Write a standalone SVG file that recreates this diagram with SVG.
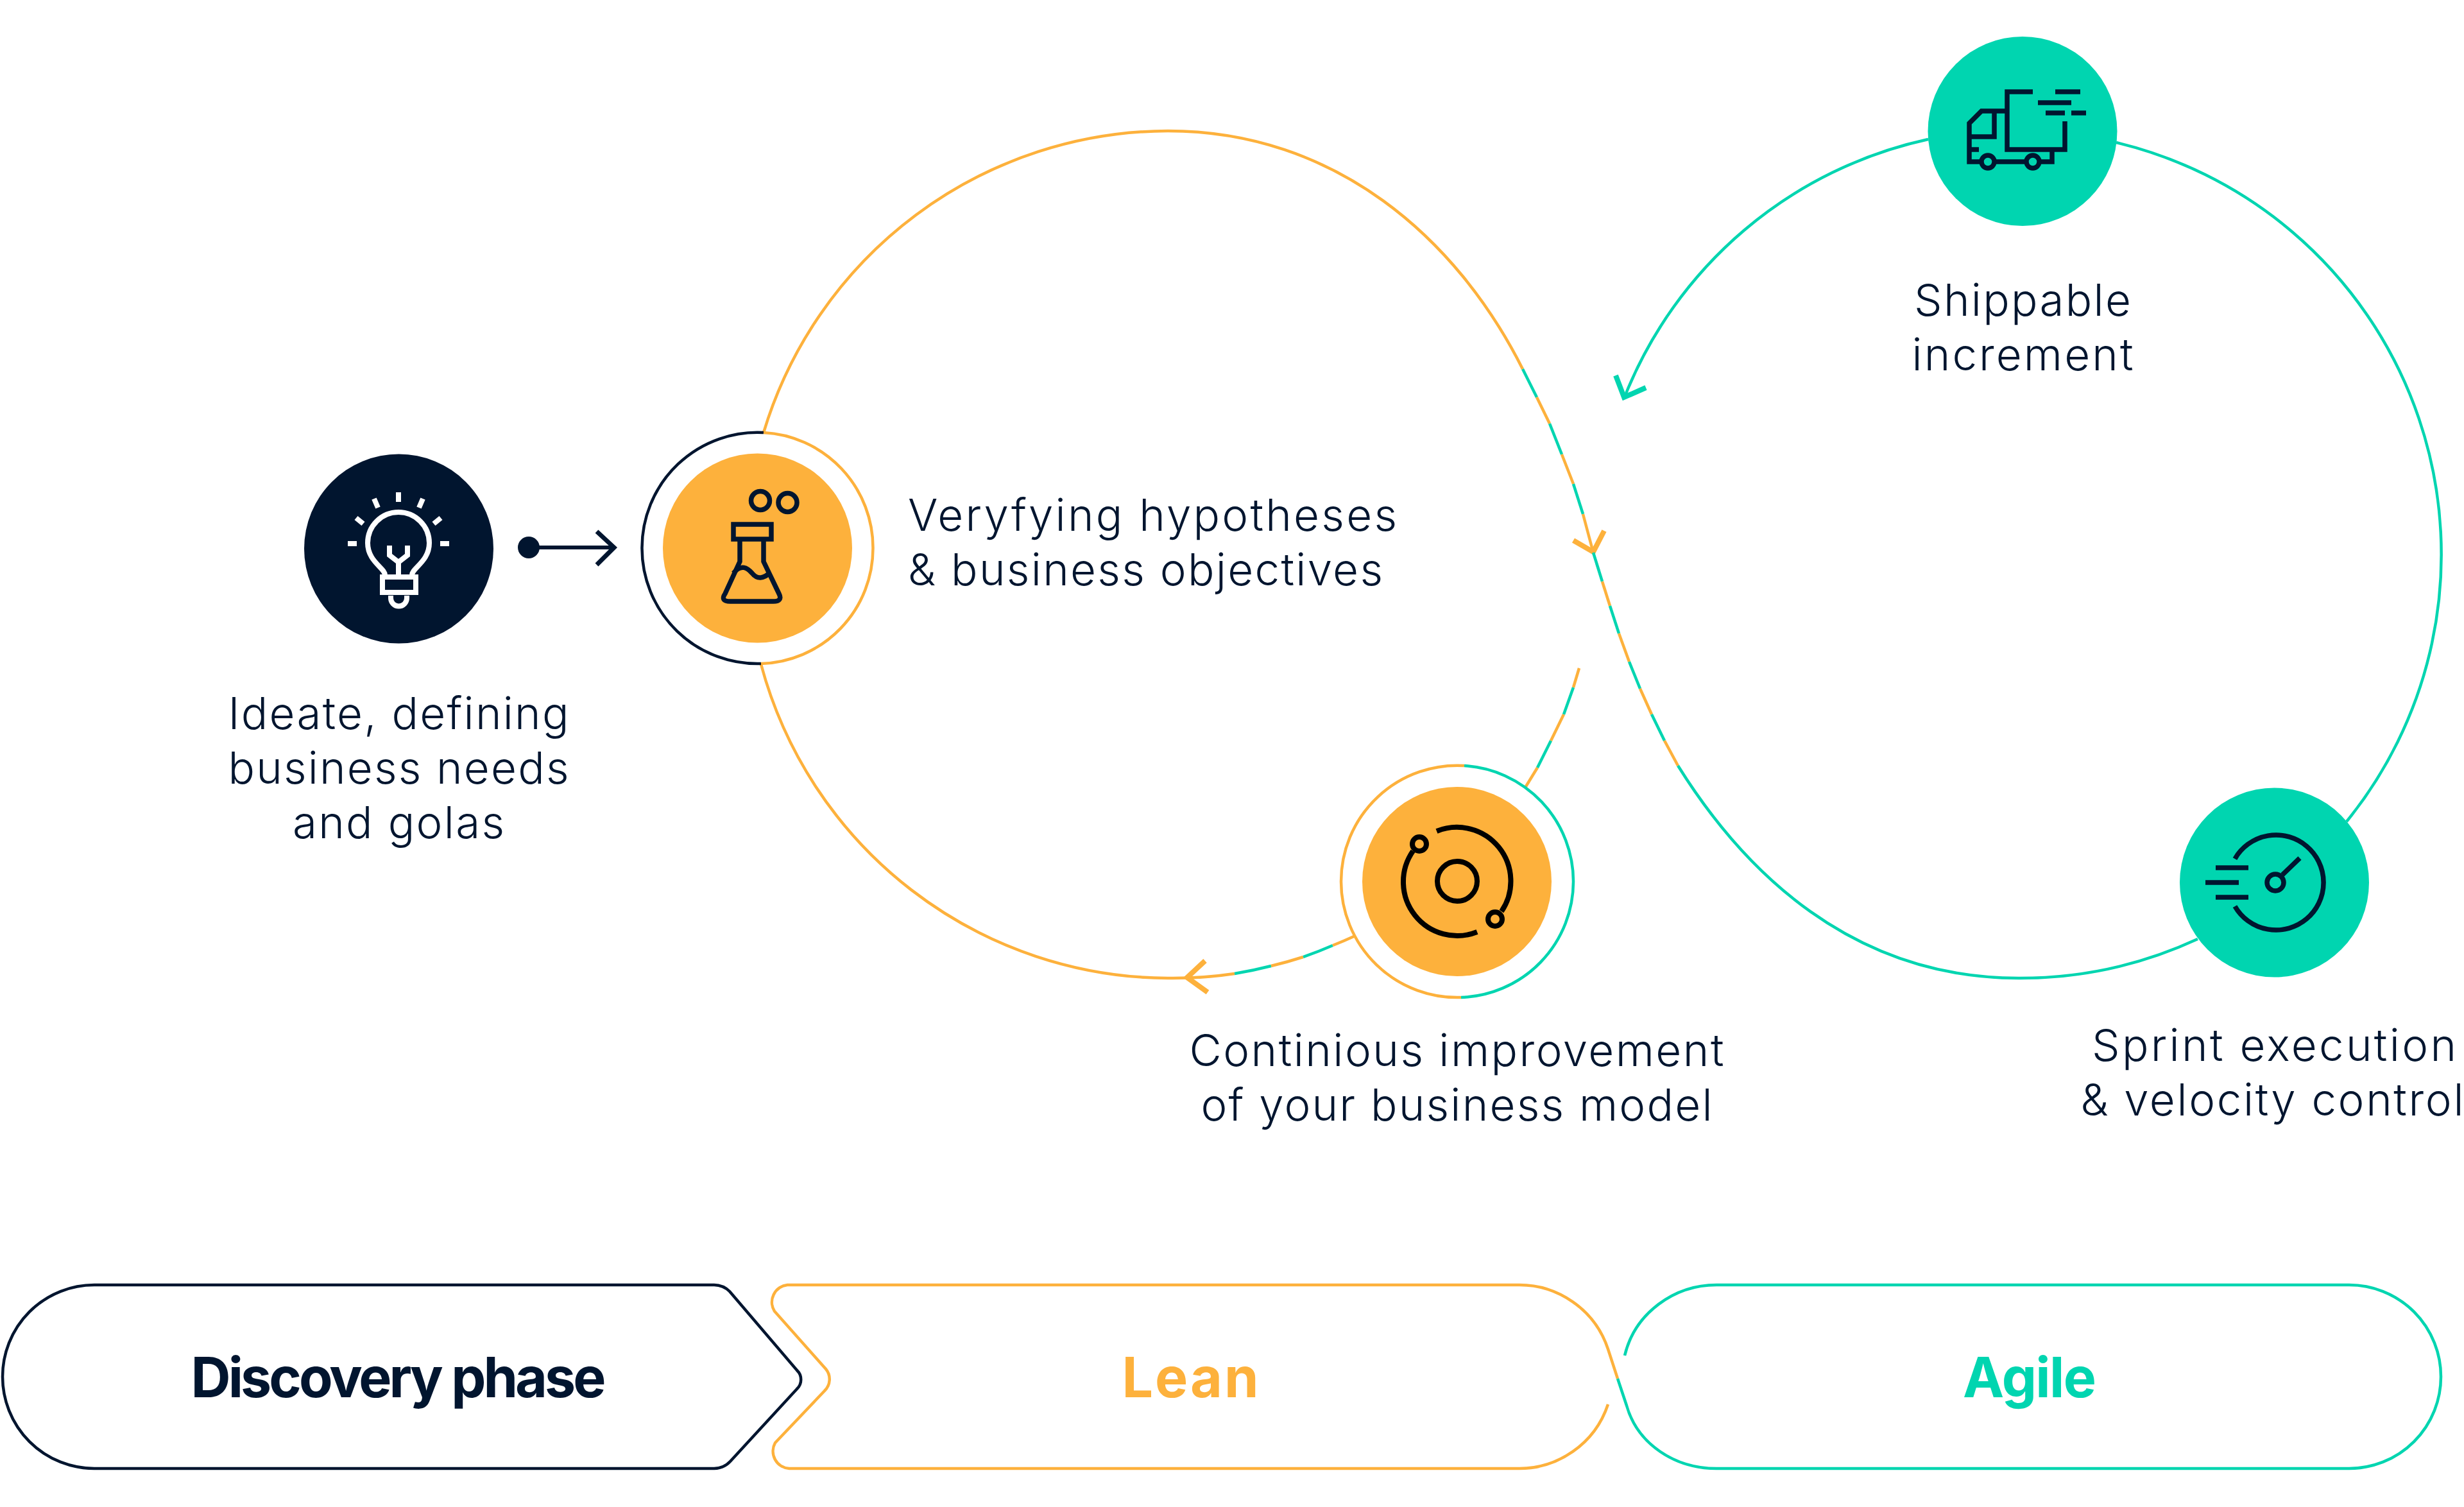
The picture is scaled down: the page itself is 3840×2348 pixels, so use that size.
<svg xmlns="http://www.w3.org/2000/svg" width="3840" height="2348" viewBox="0 0 3840 2348">
<style>
.o,.t,.n{fill:none;stroke-width:4.5}
.o{stroke:#FDB13C}.t{stroke:#00D5B0}.n{stroke:#01152F}
.ah{stroke-width:8}
.lb{font-family:"Inter","Liberation Sans",sans-serif;font-weight:300;font-size:69px;fill:#01152F;text-anchor:middle}
.ll{text-anchor:start}
.ph{font-family:"Inter","Liberation Sans",sans-serif;font-weight:700;font-size:86px;text-anchor:middle}
.iw,.in,.ik{fill:none;stroke-width:7.5}
.iw{stroke:#fff;stroke-width:8}.in{stroke:#01152F}.ik{stroke:#000;stroke-width:8}
</style>
<rect width="3840" height="2348" fill="#fff"/>
<g id="connectors">
<path class="o" d="M1190 674A660 660 0 0 1 1820 204C2080 204 2270 370 2373 575"/>
<path class="t" d="M2373 575L2395 619"/><path class="o" d="M2395 619L2415 660"/><path class="t" d="M2415 660L2434 708"/><path class="o" d="M2434 708L2452 754"/><path class="t" d="M2452 754L2467 801"/><path class="o" d="M2467 801L2483 861"/>
<polyline class="o ah" points="2452,842 2483,860 2500,827"/>
<path class="t" d="M2483 861L2497 906"/><path class="o" d="M2497 906L2509 944"/><path class="t" d="M2509 944L2523 987"/><path class="o" d="M2523 987L2539 1031"/><path class="t" d="M2539 1031L2556 1073"/><path class="o" d="M2556 1073L2574 1113"/><path class="t" d="M2574 1113L2594 1154"/><path class="o" d="M2594 1154L2615 1193"/>
<path class="t" d="M2615 1193C2718 1358 2886 1524 3146 1524A660 660 0 0 0 3425 1463"/>
<path class="t" d="M3657 1280A660 660 0 0 0 3298 222"/>
<path class="t" d="M3005 217A660 660 0 0 0 2532 618"/>
<polyline class="t ah" points="2518,585 2531,619 2565,604"/>
<path class="o" d="M1186 1035A660 660 0 0 0 1820 1524A660 660 0 0 0 1924 1517"/>
<path class="t" d="M1924 1517A660 660 0 0 0 1981 1505"/><path class="o" d="M1981 1505A660 660 0 0 0 2031 1491"/><path class="t" d="M2031 1491A660 660 0 0 0 2077 1473"/><path class="o" d="M2077 1473A660 660 0 0 0 2112 1458"/>
<polyline class="o ah" points="1878,1497 1850,1523 1882,1546"/>
<path class="o" d="M2377 1227L2396 1196"/><path class="t" d="M2396 1196L2417 1154"/><path class="o" d="M2417 1154L2437 1113"/><path class="t" d="M2437 1113L2452 1071"/><path class="o" d="M2452 1071L2461 1041"/>
<path class="n" style="stroke-width:6" d="M824 853H955"/>
<circle cx="824" cy="853" r="17" fill="#01152F"/>
<polyline class="n" style="stroke-width:7" points="930,828 957,853 930,880"/>
</g>
<g id="node-ideate">
<circle cx="621.5" cy="855" r="147.5" fill="#01152F"/>
<g class="iw">
<path d="M621 767V782M583 777L589 791M659 777L653 791M555 807L566 816M687 807L676 816M542 847H556M686 847H700"/>
<path d="M600 896C600 885 573 875 573 846A48 48 0 0 1 669 846C669 875 642 885 642 896"/>
<rect x="596" y="899" width="52" height="24"/>
<path d="M609 928V932A12.5 12.5 0 0 0 634 932V928"/>
<path d="M607 850V865L621 876L635 865V850M621 876V896"/>
</g>
<text class="lb" x="621" y="1136" textLength="531">Ideate, defining</text>
<text class="lb" x="621" y="1221" textLength="531">business needs</text>
<text class="lb" x="621" y="1306" textLength="330">and golas</text>
</g>
<g id="node-verify">
<path class="n" d="M1190 674A180 180 0 0 0 1000.500 854A180 180 0 0 0 1186 1034"/>
<path class="o" d="M1190 674A180 180 0 0 1 1360.500 854A180 180 0 0 1 1186 1034"/>
<circle cx="1180.5" cy="854" r="147.5" fill="#FDB13C"/>
<g class="in">
<circle cx="1185" cy="780" r="14.5"/><circle cx="1227.5" cy="783" r="14.5"/>
<rect x="1143" y="817" width="59" height="23"/>
<path d="M1153 843V875L1130 925Q1122 937 1138 937H1205Q1220 937 1214 925L1190 875V843"/>
<path d="M1143 893C1155 878 1165 885 1172 893C1180 903 1190 902 1200 892"/>
</g>
<text class="lb ll" x="1415" y="827" textLength="762">Veryfying hypotheses</text>
<text class="lb ll" x="1415" y="912" textLength="740">&amp; business objectives</text>
</g>
<g id="node-improve">
<path class="o" d="M2282 1193A181 181 0 0 0 2090 1373.500A181 181 0 0 0 2277 1554"/>
<path class="t" d="M2282 1193A181 181 0 0 1 2452 1373.500A181 181 0 0 1 2277 1554"/>
<circle cx="2270.5" cy="1373.5" r="147.5" fill="#FDB13C"/>
<g class="ik">
<circle cx="2271" cy="1373" r="31"/>
<path d="M2239 1295A84 84 0 0 1 2340 1420"/>
<path d="M2302 1452A84 84 0 0 1 2202 1326"/>
<circle cx="2330" cy="1432" r="11"/><circle cx="2212" cy="1315" r="11"/>
</g>
<text class="lb" x="2270" y="1661" textLength="833">Continious improvement</text>
<text class="lb" x="2270" y="1746" textLength="797">of your business model</text>
</g>
<g id="node-ship">
<circle cx="3152" cy="204.5" r="147.5" fill="#00D5B0"/>
<g class="in">
<path d="M3168 143H3128V233H3218V189M3203 143H3242M3176 160H3228M3188 176H3218M3228 176H3251"/>
<path d="M3125 173H3088L3069 192V252H3088M3110 252H3157M3180 252H3198V236M3108 175V213H3069M3072 233H3084"/>
<circle cx="3098" cy="252" r="10"/><circle cx="3168" cy="252" r="10"/>
</g>
<text class="lb" x="3152" y="492" textLength="338">Shippable</text>
<text class="lb" x="3152" y="577" textLength="345">increment</text>
</g>
<g id="node-sprint">
<circle cx="3544.5" cy="1375" r="147.5" fill="#00D5B0"/>
<g class="in">
<path d="M3483 1338A74 74 0 1 1 3483 1412"/>
<path d="M3453 1352H3504M3437 1375H3489M3453 1398H3504M3557 1363L3584 1337"/>
<circle cx="3546" cy="1375" r="13"/>
</g>
<text class="lb" x="3544" y="1653" textLength="568">Sprint execution</text>
<text class="lb" x="3541" y="1738" textLength="597">&amp; velocity control</text>
</g>
<g id="phase-discovery">
<path class="n" d="M147 2002H1113A35 35 0 0 1 1137 2012L1242 2135A20 20 0 0 1 1242 2164L1138 2277A35 35 0 0 1 1113 2288H147A143 143 0 0 1 147 2002Z"/>
<text class="ph" x="621" y="2177" textLength="647" fill="#01152F">Discovery phase</text>
</g>
<g id="phase-lean">
<path class="o" d="M2521 2148L2506 2102A146 146 0 0 0 2363 2002H1227A27 27 0 0 0 1207 2043L1287 2133A25 25 0 0 1 1285 2167L1208 2248A27 27 0 0 0 1230 2288H2363A146 146 0 0 0 2506 2188"/>
<text class="ph" x="1855" y="2177" textLength="213" fill="#FDB13C">Lean</text>
</g>
<g id="phase-agile">
<path class="t" d="M2521 2148L2535 2190C2552 2250 2610 2288 2675 2288H3661A143 143 0 0 0 3661 2002H2675C2610 2002 2548 2045 2532 2112"/>
<text class="ph" x="3163" y="2177" textLength="208" fill="#00D5B0">Agile</text>
</g>
</svg>
